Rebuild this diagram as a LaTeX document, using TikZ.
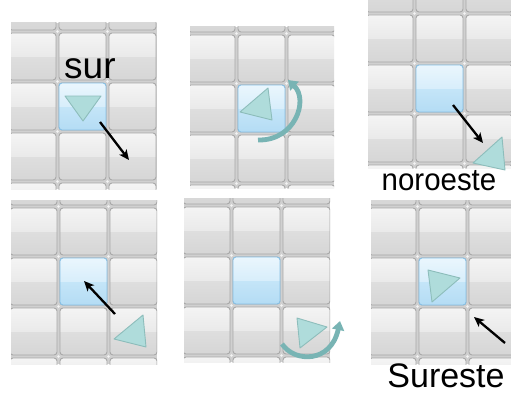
\documentclass[tikz,border=0pt]{standalone}
\usepackage{fontspec}
\setmainfont{Liberation Sans}
\usetikzlibrary{arrows.meta}

% tile colours
\definecolor{gTop}{HTML}{F4F4F4}
\definecolor{gHigh}{HTML}{EAEAEA}
\definecolor{gLow}{HTML}{DEDEDE}
\definecolor{gBot}{HTML}{D6D6D6}
\definecolor{gEdge}{HTML}{A8A8A8}
\definecolor{gGap}{HTML}{D0D0D0}
\definecolor{bTop}{HTML}{EAF6FD}
\definecolor{bHigh}{HTML}{D8EEFB}
\definecolor{bLow}{HTML}{C4E5F8}
\definecolor{bBot}{HTML}{B4DCF4}
\definecolor{bEdge}{HTML}{86BFE4}
\definecolor{triFill}{HTML}{AFDCDB}
\definecolor{triEdge}{HTML}{8DBDBB}
\definecolor{turnTeal}{HTML}{78B4B4}

\pgfdeclareverticalshading{graytile}{100bp}{color(0bp)=(gBot); color(25bp)=(gBot); color(49.5bp)=(gLow); color(50.5bp)=(gHigh); color(75bp)=(gTop); color(100bp)=(gTop)}
\pgfdeclareverticalshading{bluetile}{100bp}{color(0bp)=(bBot); color(25bp)=(bBot); color(49.5bp)=(bLow); color(50.5bp)=(bHigh); color(75bp)=(bTop); color(100bp)=(bTop)}

\tikzset{
  tilegray/.style={shade, shading=graytile, draw=gEdge, line width=0.9, rounded corners=3},
  tileblue/.style={shade, shading=bluetile, draw=bEdge, line width=0.9, rounded corners=3},
  tri/.style={fill=triFill, draw=triEdge, line width=0.9, line join=round},
  ptr/.style={line width=2.3, -{Stealth[length=10,width=9,inset=2.5]}},
  turn/.style={draw=turnTeal, line width=4.8, -{Triangle[width=12,length=9]}},
  lbl/.style={inner sep=0, text=black},
}

% one 3-column panel: #1,#2 top-left of the selected tile, #3..#6 visible window
\newcommand\tilepanel[6]{%
  \begin{scope}
    \clip (#3,#4) rectangle (#5,#6);
    \fill[gGap] (#3,#4) rectangle (#5,#6);
    \foreach \i in {-1,0,1}{
      \foreach \j in {-2,...,2}{
        \path[tilegray] ({#1+50*\i},{#2+50*\j}) rectangle ++(47,47);
        \fill[gTop] ({#1+50*\i-1.5},{#2+50*\j-1.5}) circle (1.3);
      }
    }
    \path[tileblue] (#1,#2) rectangle ++(47,47);
  \end{scope}}

\begin{document}
\begin{tikzpicture}[x=1pt,y=-1pt]
  \fill[white] (0,0) rectangle (511,396);
  \useasboundingbox (0,0) rectangle (511,396);

  % the six panels
  \tilepanel{59}{83}{11}{23}{157}{189}
  \tilepanel{238}{85}{190}{27}{334}{188}
  \tilepanel{416}{65}{368}{0}{511}{168}
  \tilepanel{60}{258}{11}{200}{157}{364}
  \tilepanel{233}{257}{184}{198}{330}{362}
  \tilepanel{419}{258}{371}{200}{511}{364}

  % panel 1: facing south, move
  \draw[tri] (65,96) -- (101,96) -- (83,121) -- cycle;
  \coordinate (p1s) at (100,122);
  \coordinate (p1e) at (129,160);
  \draw[ptr] (p1s) -- (p1e);
  \node[lbl, anchor=base west, font=\fontsize{37}{37}\selectfont] (sur) at (64,78) {sur};

  % panel 2: turning
  \draw[tri] (240,112) -- (268,88) -- (272,120) -- cycle;
  \coordinate (t2s) at (258,140);
  \coordinate (t2e) at (288,80);
  \draw[turn] (t2s) .. controls (295,141) and (309,100) .. (t2e);

  % panel 3: moved out, heading northwest label
  \coordinate (p3s) at (453,105);
  \coordinate (p3e) at (483,143);
  \draw[ptr] (p3s) -- (p3e);
  \draw[tri] (473,163) -- (502,137) -- (505,170) -- cycle;
  \node[lbl, anchor=base, font=\fontsize{31}{31}\selectfont, xscale=0.95] (noroeste) at (439,190) {noroeste};

  % panel 4: coming back
  \draw[tri] (114,339) -- (143,315) -- (146,347) -- cycle;
  \coordinate (p4s) at (115,314);
  \coordinate (p4e) at (84,281);
  \draw[ptr] (p4s) -- (p4e);

  % panel 5: turning in the corner tile
  \draw[tri] (297,318) -- (327,327) -- (300,348) -- cycle;
  \coordinate (t5s) at (282,344);
  \coordinate (t5e) at (340,321);
  \draw[turn] (t5s) .. controls (295,363) and (331,363) .. (t5e);

  % panel 6: back on the selected tile, southeast label
  \draw[tri] (428,270) -- (460,278) -- (432,302) -- cycle;
  \coordinate (p6s) at (505,343);
  \coordinate (p6e) at (474,317);
  \draw[ptr] (p6s) -- (p6e);
  \node[lbl, anchor=base, font=\fontsize{34}{34}\selectfont] (sureste) at (446,387) {Sureste};
\end{tikzpicture}
\end{document}
